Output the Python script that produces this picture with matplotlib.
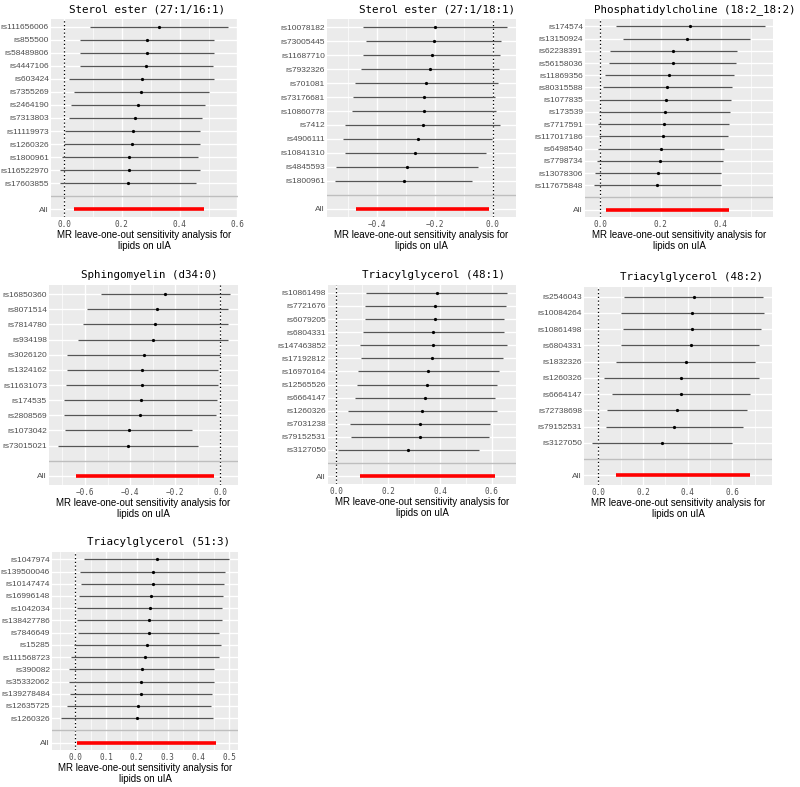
import matplotlib.pyplot as plt
from matplotlib.ticker import MultipleLocator

# ---- data: leave-one-out estimates (b, lower, upper) ----
# Sterol ester (27:1/16:1)
se16_snp = ['rs111656006', 'rs855500', 'rs58489806', 'rs4447106', 'rs603424', 'rs7355269', 'rs2464190',
            'rs7313803', 'rs11119973', 'rs1260326', 'rs1800961', 'rs116522970', 'rs17603855']
se16_b = [0.329, 0.286, 0.286, 0.285, 0.269, 0.266, 0.255, 0.247, 0.237, 0.234, 0.226, 0.225, 0.221]
se16_lo = [0.090, 0.054, 0.054, 0.054, 0.016, 0.033, 0.023, 0.016, 0.005, 0.000, -0.008, -0.015, -0.015]
se16_hi = [0.567, 0.520, 0.520, 0.517, 0.520, 0.500, 0.488, 0.479, 0.469, 0.470, 0.462, 0.469, 0.457]
se16_all = [0.033, 0.486]

# Sterol ester (27:1/18:1)
se18_snp = ['rs10078182', 'rs73005445', 'rs11687710', 'rs7932326', 'rs701081', 'rs73176681', 'rs10860778',
            'rs7412', 'rs4906111', 'rs10841310', 'rs4845593', 'rs1800961']
se18_b = [-0.200, -0.205, -0.212, -0.219, -0.231, -0.238, -0.238, -0.243, -0.260, -0.269, -0.298, -0.309]
se18_lo = [-0.451, -0.438, -0.451, -0.456, -0.477, -0.483, -0.487, -0.511, -0.519, -0.513, -0.543, -0.546]
se18_hi = [0.050, 0.029, 0.025, 0.020, 0.016, 0.008, 0.010, 0.024, -0.002, -0.024, -0.053, -0.073]
se18_all = [-0.474, -0.013]

# Phosphatidylcholine (18:2_18:2)
pc_snp = ['rs174574', 'rs13150924', 'rs62238391', 'rs56158036', 'rs11869356', 'rs80315588', 'rs1077835',
          'rs173539', 'rs7717591', 'rs117017186', 'rs6498540', 'rs7798734', 'rs13078306', 'rs117675848']
pc_b = [0.299, 0.286, 0.242, 0.241, 0.228, 0.221, 0.217, 0.214, 0.210, 0.208, 0.201, 0.197, 0.191, 0.187]
pc_lo = [0.052, 0.076, 0.032, 0.030, 0.014, 0.008, -0.001, -0.003, -0.007, -0.004, -0.009, -0.012, -0.017, -0.021]
pc_hi = [0.545, 0.498, 0.453, 0.451, 0.442, 0.436, 0.435, 0.431, 0.427, 0.422, 0.411, 0.407, 0.401, 0.399]
pc_all = [0.019, 0.428]

# Sphingomyelin (d34:0)
sm_snp = ['rs16850360', 'rs8071514', 'rs7814780', 'rs934198', 'rs3026120', 'rs1324162', 'rs11631073',
          'rs174535', 'rs2808569', 'rs1073042', 'rs73015021']
sm_b = [-0.243, -0.279, -0.287, -0.298, -0.339, -0.345, -0.348, -0.353, -0.357, -0.406, -0.409]
sm_lo = [-0.527, -0.591, -0.609, -0.631, -0.679, -0.680, -0.686, -0.693, -0.693, -0.687, -0.720]
sm_hi = [0.043, 0.034, 0.034, 0.037, 0.001, -0.010, -0.010, -0.013, -0.018, -0.123, -0.096]
sm_all = [-0.639, -0.027]

# Triacylglycerol (48:1)
tg481_snp = ['rs10861498', 'rs7721676', 'rs6079205', 'rs6804331', 'rs147463852', 'rs17192812', 'rs16970164',
             'rs12565526', 'rs6664147', 'rs1260326', 'rs7031238', 'rs79152531', 'rs3127050']
tg481_b = [0.387, 0.382, 0.379, 0.374, 0.373, 0.368, 0.354, 0.348, 0.342, 0.332, 0.321, 0.321, 0.277]
tg481_lo = [0.116, 0.110, 0.110, 0.103, 0.092, 0.097, 0.083, 0.080, 0.071, 0.046, 0.052, 0.055, 0.006]
tg481_hi = [0.658, 0.654, 0.648, 0.646, 0.658, 0.641, 0.627, 0.618, 0.612, 0.619, 0.592, 0.588, 0.550]
tg481_all = [0.090, 0.613]

# Triacylglycerol (48:2)
tg482_snp = ['rs2546043', 'rs10084264', 'rs10861498', 'rs6804331', 'rs1832326', 'rs1260326', 'rs6664147',
             'rs72738698', 'rs79152531', 'rs3127050']
tg482_b = [0.427, 0.421, 0.421, 0.413, 0.391, 0.372, 0.369, 0.352, 0.339, 0.287]
tg482_lo = [0.116, 0.103, 0.110, 0.100, 0.081, 0.024, 0.060, 0.039, 0.036, -0.027]
tg482_hi = [0.737, 0.740, 0.730, 0.722, 0.701, 0.719, 0.678, 0.667, 0.648, 0.600]
tg482_all = [0.081, 0.678]

# Triacylglycerol (51:3)
tg513_snp = ['rs1047974', 'rs139500046', 'rs10147474', 'rs16996148', 'rs1042034', 'rs138427786', 'rs7846649',
             'rs15285', 'rs111568723', 'rs390082', 'rs35332062', 'rs139278484', 'rs12635725', 'rs1260326']
tg513_b = [0.266, 0.252, 0.251, 0.245, 0.242, 0.241, 0.238, 0.233, 0.226, 0.216, 0.215, 0.213, 0.205, 0.201]
tg513_lo = [0.029, 0.015, 0.018, 0.011, 0.005, 0.005, 0.009, -0.005, -0.014, -0.022, -0.022, -0.019, -0.028, -0.046]
tg513_hi = [0.500, 0.488, 0.483, 0.481, 0.478, 0.478, 0.468, 0.473, 0.467, 0.452, 0.452, 0.445, 0.440, 0.448]
tg513_all = [0.005, 0.459]

xlab = 'MR leave-one-out sensitivity analysis for\nlipids on uIA'

# title, data, xlim, tick step, axes box in pixels (x0, y0, x1, y1), title x in axes fraction
panels = [
    ('Sterol ester (27:1/16:1)', se16_snp, se16_b, se16_lo, se16_hi, se16_all, (-0.045, 0.602), 0.2, (51, 19, 238, 217), 0.513),
    ('Sterol ester (27:1/18:1)', se18_snp, se18_b, se18_lo, se18_hi, se18_all, (-0.574, 0.080), 0.2, (327, 19, 516, 217), 0.58),
    ('Phosphatidylcholine (18:2_18:2)', pc_snp, pc_b, pc_lo, pc_hi, pc_all, (-0.051, 0.573), 0.2, (585, 19, 773, 217), 0.585),
    ('Sphingomyelin (d34:0)', sm_snp, sm_b, sm_lo, sm_hi, sm_all, (-0.760, 0.080), 0.2, (49, 285, 238, 485), 0.53),
    ('Triacylglycerol (48:1)', tg481_snp, tg481_b, tg481_lo, tg481_hi, tg481_all, (-0.032, 0.693), 0.2, (328, 285, 516, 484), 0.56),
    ('Triacylglycerol (48:2)', tg482_snp, tg482_b, tg482_lo, tg482_hi, tg482_all, (-0.064, 0.778), 0.2, (584, 287, 772, 485), 0.57),
    ('Triacylglycerol (51:3)', tg513_snp, tg513_b, tg513_lo, tg513_hi, tg513_all, (-0.076, 0.529), 0.1, (52, 552, 238, 750), 0.57),
]

W, H = 800, 787
fig = plt.figure(figsize=(W / 100, H / 100), dpi=100)

for title, snp, b, lo, hi, allci, xl, step, box, tx in panels:
    x0, y0, x1, y1 = box
    ax = fig.add_axes([x0 / W, 1 - y1 / H, (x1 - x0) / W, (y1 - y0) / H])
    n = len(snp)
    ys = list(range(n + 2, 2, -1))  # SNP rows top to bottom, gap at 2, All at 1

    ax.set_facecolor('#EBEBEB')
    for s in ax.spines.values():
        s.set_visible(False)
    ax.xaxis.set_major_locator(MultipleLocator(step))
    ax.xaxis.set_minor_locator(MultipleLocator(step / 2))
    ax.grid(which='major', axis='x', color='white', lw=1.0)
    ax.grid(which='minor', axis='x', color='white', lw=0.5)
    ax.grid(which='major', axis='y', color='white', lw=1.0)
    ax.set_axisbelow(True)

    ax.axvline(0, color='black', ls=(0, (1, 2)), lw=0.9, zorder=2)
    ax.hlines(ys, lo, hi, color='#555555', lw=0.9, zorder=3)
    ax.plot(b, ys, 'o', color='black', ms=1.3, zorder=4)
    ax.axhline(2, color='#BEBEBE', lw=1.0, zorder=2)
    ax.hlines([1], [allci[0]], [allci[1]], color='#FF0000', lw=2.6, zorder=3)

    ax.set_yticks(ys + [1])
    ax.set_yticklabels(snp + ['All'], fontsize=6, color='#4d4d4d', family='Liberation Sans')
    ax.set_ylim(0.4, n + 2.6)
    ax.set_xlim(*xl)
    ax.tick_params(axis='both', which='both', length=0)
    ax.tick_params(axis='y', pad=1.5)
    ax.tick_params(axis='x', pad=2)
    for t in ax.get_xticklabels():
        t.set_fontsize(5.5)
        t.set_color('#4d4d4d')
        t.set_family('DejaVu Sans Mono')

    ax.set_title(title, x=tx, fontsize=7.8, family='DejaVu Sans Mono', pad=5)
    ax.set_xlabel(xlab, fontsize=7, family='Liberation Sans', labelpad=1, linespacing=1.1)

fig.savefig('out.png', dpi=100)
